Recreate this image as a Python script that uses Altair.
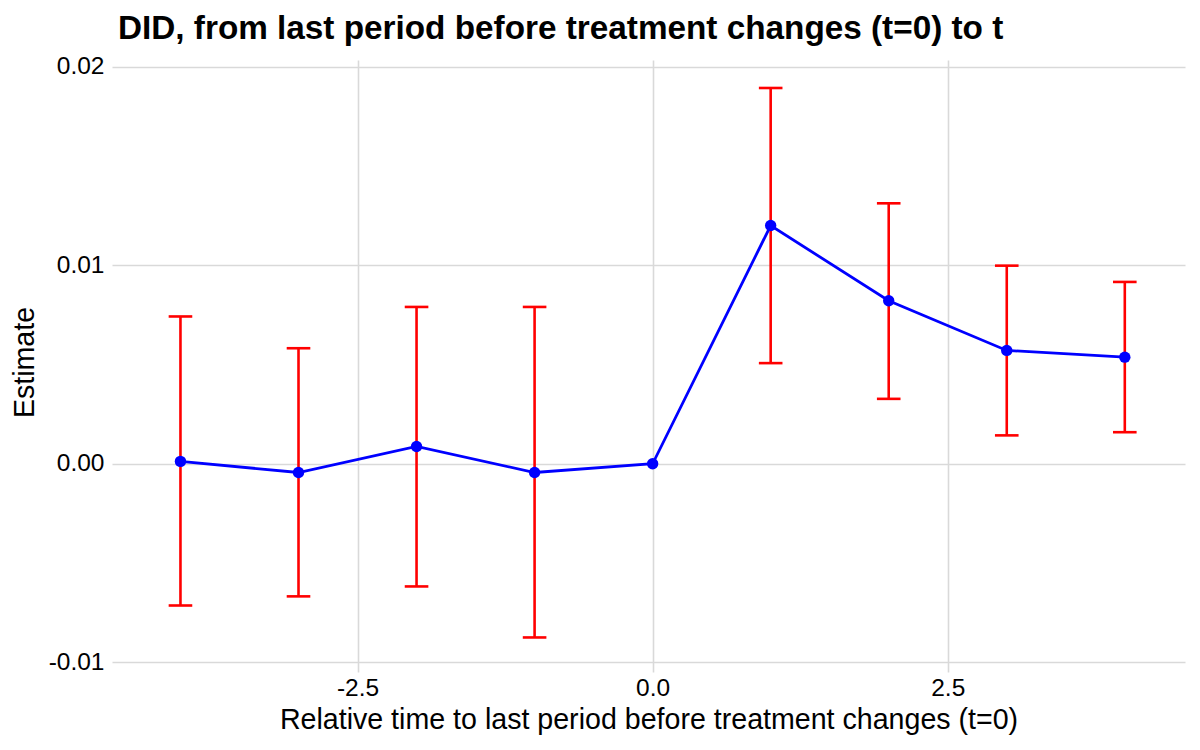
import altair as alt
import pandas as pd

# Data
rel_time = [-4, -3, -2, -1, 0, 1, 2, 3, 4]
estimate = [0.00012, -0.00044, 0.00087, -0.00044, 0.0, 0.01200, 0.00821, 0.00571, 0.00537]
ci_lower = [-0.00714, -0.00668, -0.00618, -0.00875, None, 0.00507, 0.00327, 0.00143, 0.00159]
ci_upper = [0.00742, 0.00582, 0.00790, 0.00790, None, 0.01893, 0.01312, 0.00998, 0.00916]
x_ticks = [-2.5, 0.0, 2.5]
y_ticks = [-0.01, 0.0, 0.01, 0.02]

title_text = "DID, from last period before treatment changes (t=0) to t"
x_title = "Relative time to last period before treatment changes (t=0)"
y_title = "Estimate"

df = pd.DataFrame({"t": rel_time, "est": estimate, "lo": ci_lower, "hi": ci_upper})

FONT = "Liberation Sans"
x_dom = [-4.58, 4.51]
y_dom = [-0.01049, 0.02034]

x_scale = alt.Scale(domain=x_dom, nice=False, zero=False)
y_scale = alt.Scale(domain=y_dom, nice=False, zero=False)

x_axis = alt.Axis(
    values=x_ticks, title=x_title, grid=True, domain=False, ticks=False,
    labelExpr="datum.value < 0 ? '-' + format(-datum.value, '.1f') : format(datum.value, '.1f')",
    labelFontSize=24.5, labelColor="#000000", labelPadding=4, labelFont=FONT,
    titleFontSize=28.6, titleFont=FONT, titleFontWeight="normal", titleColor="#000000",
    titleBaseline="alphabetic", titleY=56,
)
y_axis = alt.Axis(
    values=y_ticks, title=y_title, grid=True, domain=False, ticks=False,
    labelExpr="datum.value < 0 ? '-' + format(-datum.value, '.2f') : format(datum.value, '.2f')",
    labelFontSize=24.5, labelColor="#000000", labelPadding=8, labelFont=FONT,
    titleFontSize=28.6, titleFont=FONT, titleFontWeight="normal", titleColor="#000000",
    titleBaseline="alphabetic", titleX=-79, titleY=302, titleAngle=-90,
)

base = alt.Chart(df)

ci = base.transform_filter("isValid(datum.lo)")

bars = ci.mark_rule(color="#FF0000", strokeWidth=2.6).encode(
    x=alt.X("t:Q", scale=x_scale, axis=x_axis),
    y=alt.Y("lo:Q", scale=y_scale, axis=y_axis),
    y2="hi:Q",
)
caps_hi = ci.transform_calculate(xa="datum.t - 0.1", xb="datum.t + 0.1").mark_rule(
    color="#FF0000", strokeWidth=2.6
).encode(x=alt.X("xa:Q", scale=x_scale), x2="xb:Q", y=alt.Y("hi:Q", scale=y_scale))
caps_lo = ci.transform_calculate(xa="datum.t - 0.1", xb="datum.t + 0.1").mark_rule(
    color="#FF0000", strokeWidth=2.6
).encode(x=alt.X("xa:Q", scale=x_scale), x2="xb:Q", y=alt.Y("lo:Q", scale=y_scale))

line = base.mark_line(color="#0000FF", strokeWidth=2.8).encode(
    x=alt.X("t:Q", scale=x_scale), y=alt.Y("est:Q", scale=y_scale)
)
pts = base.mark_circle(color="#0000FF", size=130, opacity=1).encode(
    x=alt.X("t:Q", scale=x_scale), y=alt.Y("est:Q", scale=y_scale)
)

chart = alt.layer(bars, caps_hi, caps_lo, line, pts).properties(
    width=1073,
    height=612,
    autosize=alt.AutoSizeParams(type="none"),
    padding={"left": 104, "top": 52, "right": 7, "bottom": 70},
    title=alt.TitleParams(
        text=title_text, anchor="start", frame="group", font=FONT, fontSize=33.3,
        fontWeight="bold", color="#000000", baseline="alphabetic", dx=6, dy=35, offset=16,
    ),
).configure_view(stroke=None).configure_axis(
    gridColor="#D9D9D9", gridWidth=1.6
)

chart.save("out.html", embed_options={"renderer": "svg", "actions": False})
